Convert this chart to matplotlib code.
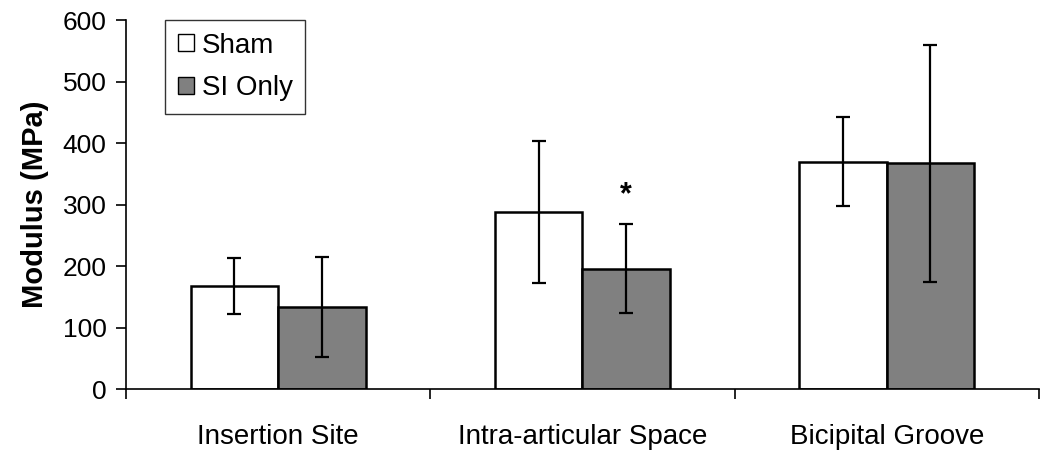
import matplotlib
matplotlib.use("Agg")
import matplotlib.pyplot as plt
import numpy as np

categories = ["Insertion Site", "Intra-articular Space", "Bicipital Groove"]
sham = [168, 288, 370]
sham_err = [46, 115, 72]
si_only = [134, 196, 367]
si_err = [81, 72, 193]
series_names = ["Sham", "SI Only"]
yticks = [0, 100, 200, 300, 400, 500, 600]

plt.rcParams['font.family'] = ['Liberation Sans', 'DejaVu Sans']

fig = plt.figure(figsize=(10.5, 4.58), dpi=100)
ax = fig.add_axes([0.12, 0.15, 0.8695, 0.8063])

x = np.arange(len(categories)) + 0.5
w = 0.287
ekw = dict(ecolor='black', elinewidth=1.6, capthick=1.6)
ax.bar(x - w / 2, sham, w, color='white', edgecolor='black', linewidth=1.8,
       yerr=sham_err, capsize=5, error_kw=ekw, label=series_names[0], zorder=2)
ax.bar(x + w / 2, si_only, w, color='#808080', edgecolor='black', linewidth=1.8,
       yerr=si_err, capsize=5, error_kw=ekw, label=series_names[1], zorder=2)

ax.text(x[1] + w / 2, si_only[1] + si_err[1] + 48, "*", ha='center', va='center',
        fontsize=22, fontweight='bold')

ax.set_xlim(0, 3)
ax.set_ylim(0, 600)
ax.set_yticks(yticks)
ax.set_xticks([0, 1, 2, 3])
ax.set_xticklabels([])
ax.set_xticks(x, minor=True)
ax.set_xticklabels(categories, minor=True, fontsize=20)
ax.tick_params(axis='x', which='minor', length=0, pad=25)
ax.tick_params(axis='x', which='major', length=7, width=1.2, direction='out')
ax.tick_params(axis='y', length=7, width=1.2, labelsize=19, pad=7)
ax.spines['top'].set_visible(False)
ax.spines['right'].set_visible(False)
ax.spines['left'].set_linewidth(1.2)
ax.spines['bottom'].set_linewidth(1.2)
ax.set_ylabel("Modulus (MPa)", fontsize=21, fontweight='bold', labelpad=10)

leg = ax.legend(loc='upper left', bbox_to_anchor=(0.043, 1.0), fontsize=20,
                frameon=True, fancybox=False, edgecolor='black',
                handlelength=0.57, handleheight=0.57, handletextpad=0.3,
                borderpad=0.45, labelspacing=0.6, borderaxespad=0)
leg.get_frame().set_linewidth(1.0)
for h in leg.legend_handles:
    h.set_linewidth(1.0)

fig.savefig("out.png", dpi=100)
